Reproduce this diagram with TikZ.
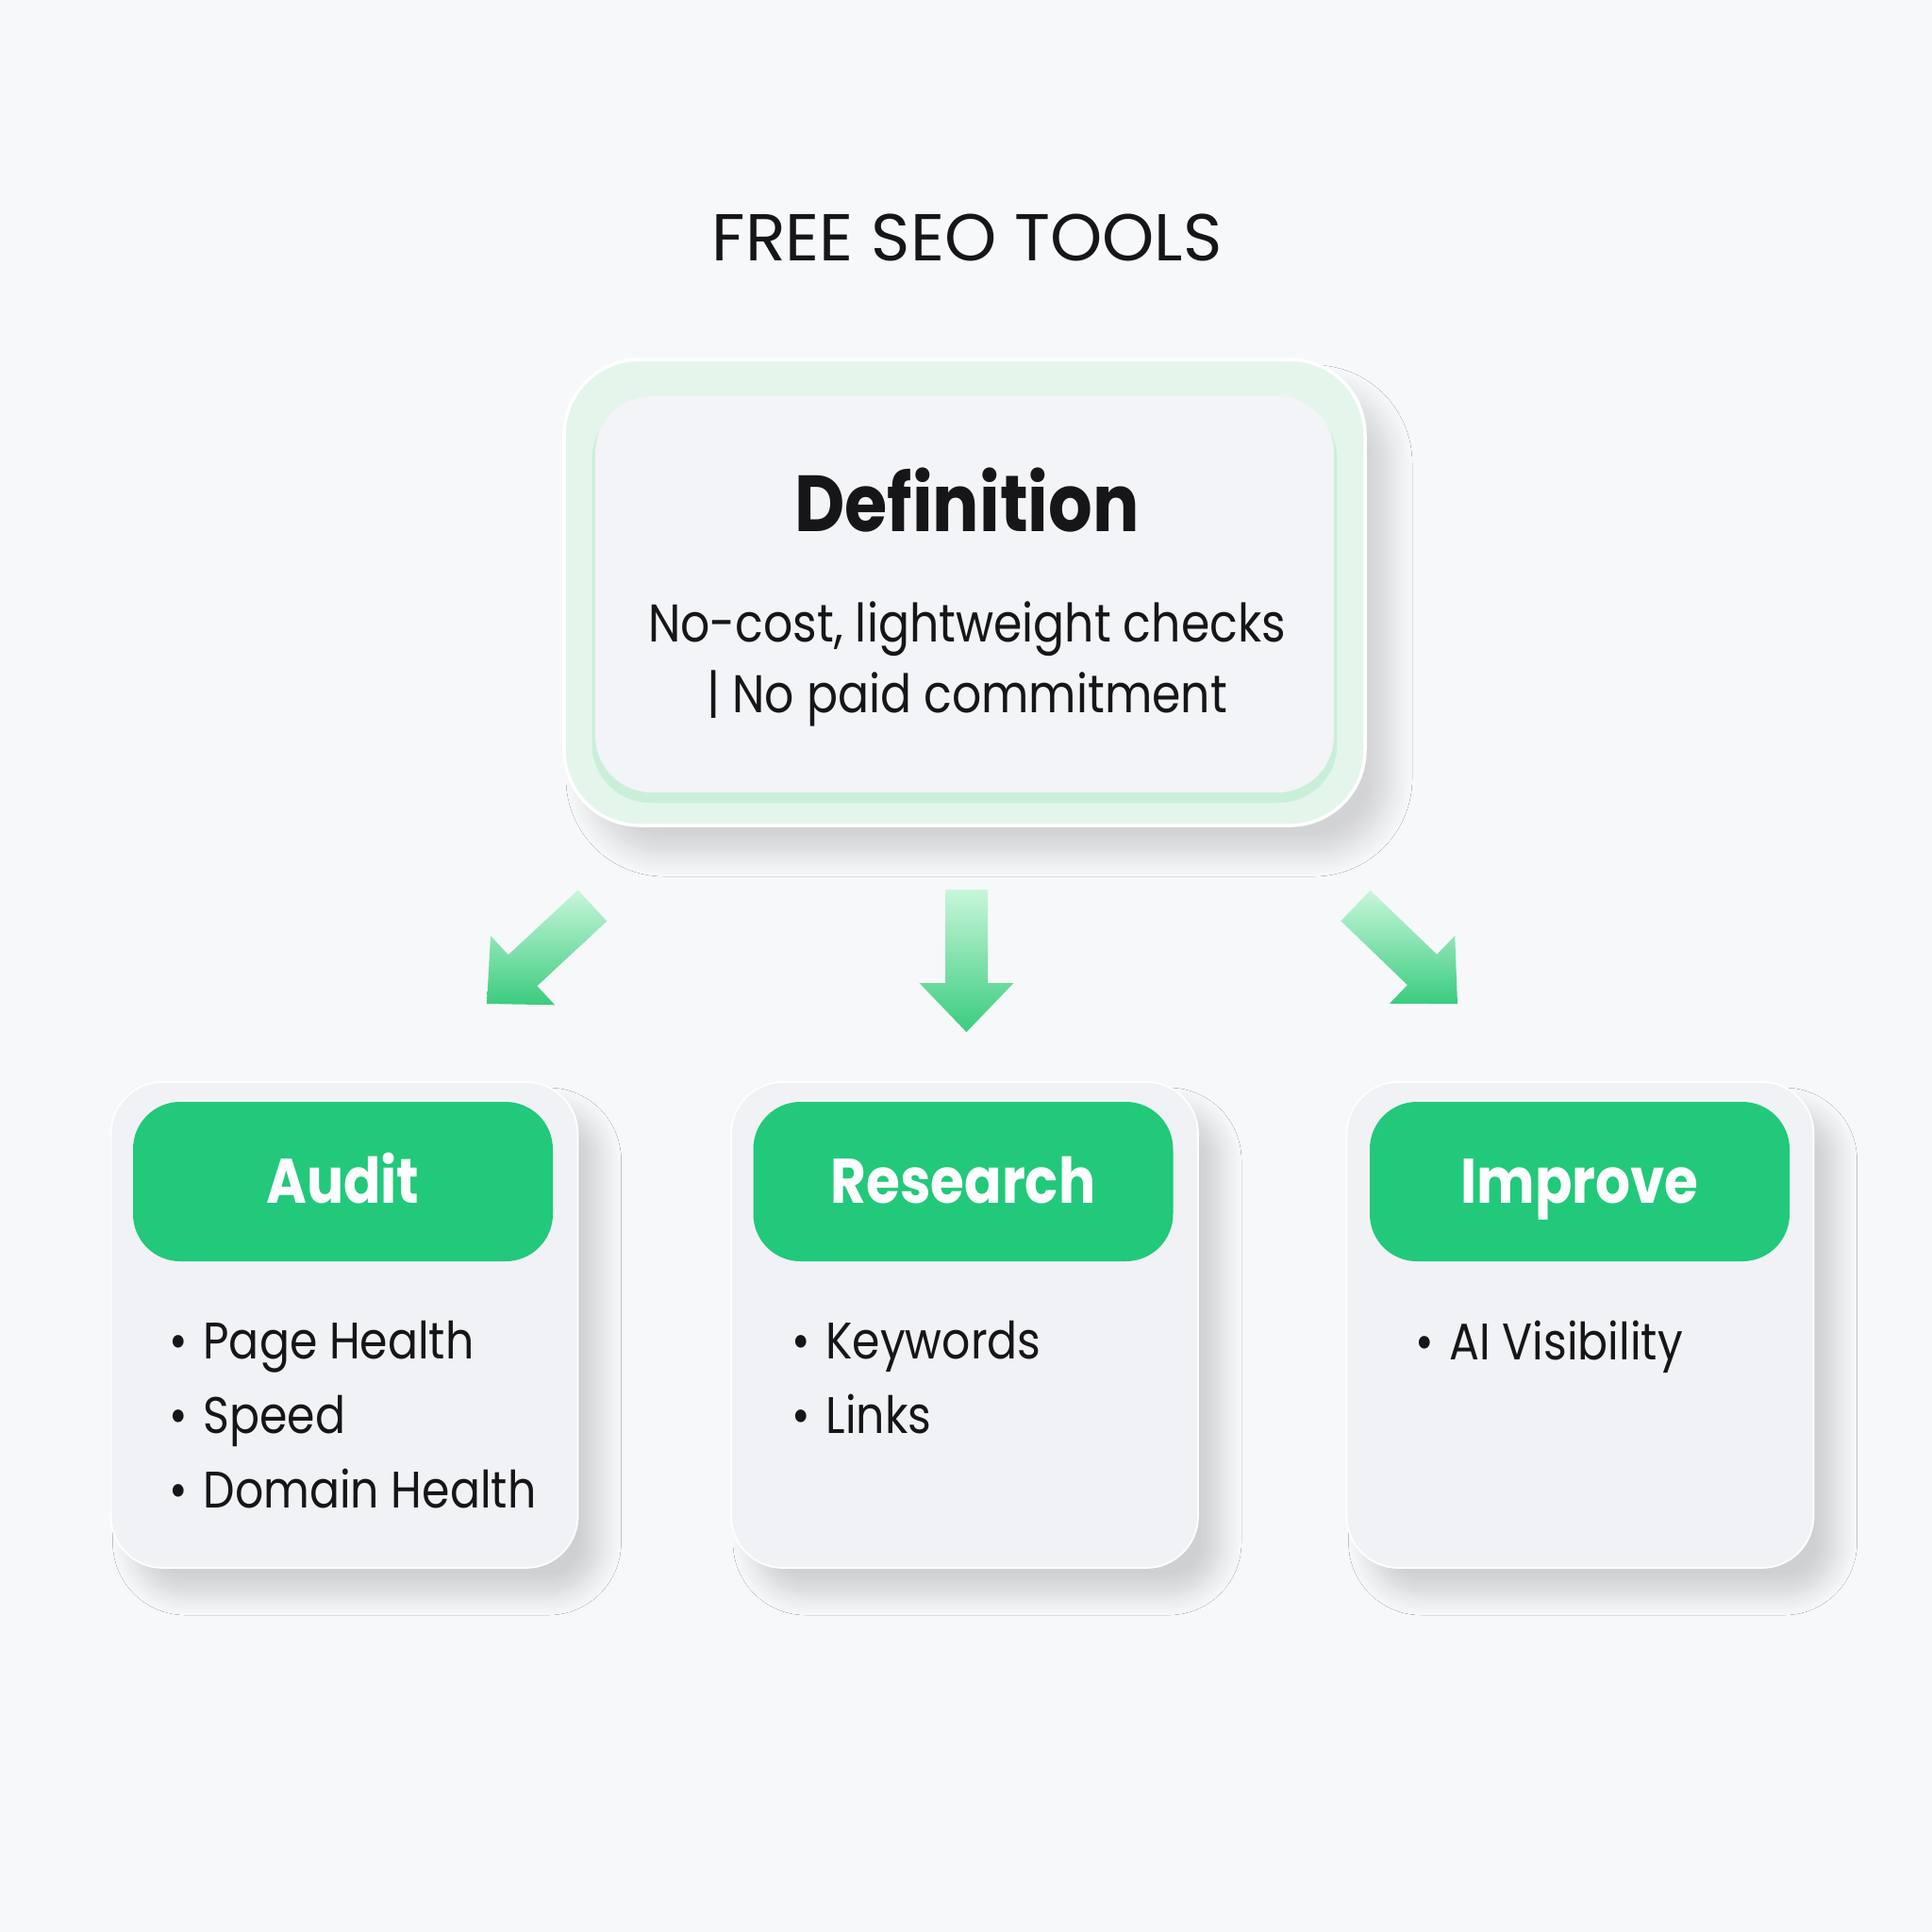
\documentclass[tikz,border=0pt]{standalone}
\usepackage{fontspec}
\setmainfont{Poppins}
\newfontfamily\narrowfont{Poppins}[FakeStretch=0.87]
\usetikzlibrary{calc,positioning,shadows.blur}

\definecolor{bgcol}{RGB}{247,248,250}
\definecolor{cardcol}{RGB}{241,242,245}
\definecolor{defcol}{RGB}{243,244,247}
\definecolor{mintpale}{RGB}{228,246,236}
\definecolor{mintrim}{RGB}{202,239,217}
\definecolor{headgreen}{RGB}{34,201,122}
\definecolor{arrowlight}{RGB}{200,246,218}
\definecolor{arrowdark}{RGB}{58,204,126}
\definecolor{ink}{RGB}{22,22,24}

% fat arrow between two named coordinates: #1 tail, #2 tip, #3 shading angle
\newcommand{\fatarrow}[3]{%
  \coordinate (#1h) at ($(#2)!0.52cm!(#1)$);
  \shade[shading angle=#3, top color=arrowlight, bottom color=arrowdark]
    ($(#1)!0.225cm!90:(#2)$) -- ($(#1h)!0.225cm!90:(#2)$) -- ($(#1h)!0.5cm!90:(#2)$)
    -- (#2) -- ($(#1h)!0.5cm!-90:(#2)$) -- ($(#1h)!0.225cm!-90:(#2)$)
    -- ($(#1)!0.225cm!-90:(#2)$) -- cycle;
}

\begin{document}
\begin{tikzpicture}[
    card/.style={rectangle, rounded corners=0.55cm, fill=cardcol, draw=white, line width=0.5pt,
      minimum width=4.95cm, minimum height=5.15cm,
      blur shadow={shadow xshift=0.24cm, shadow yshift=-0.28cm, shadow blur radius=0.22cm,
        shadow blur steps=12, shadow opacity=16}},
    header/.style={rectangle, rounded corners=0.5cm, fill=headgreen, minimum width=4.45cm, minimum height=1.69cm,
      text=white, text height=13pt, text depth=0pt, font=\narrowfont\bfseries\fontsize{19}{22}\selectfont},
    items/.style={anchor=north west, align=left, inner sep=0pt, text=ink,
      font=\narrowfont\fontsize{15.5}{22.5}\selectfont}
]
\useasboundingbox (0,0) rectangle (20.48,-20.48);
\fill[bgcol] (0,0) rectangle (20.48,-20.48);

% Title
\node[text=ink, font=\fontsize{20}{24}\selectfont] (title) at (10.25,-2.52) {FREE SEO TOOLS};

% Definition box with soft green glow
\node[rectangle, rounded corners=0.8cm, fill=mintpale, draw=white, line width=1pt,
  minimum width=8.49cm, minimum height=4.94cm,
  blur shadow={shadow xshift=0.26cm, shadow yshift=-0.3cm, shadow blur radius=0.24cm,
    shadow blur steps=12, shadow opacity=15}]
  (defglow) at (10.225,-6.28) {};
\node[rectangle, rounded corners=0.62cm, fill=mintrim, minimum width=7.90cm, minimum height=4.26cm]
  (defrim) at (10.225,-6.38) {};
\node[rectangle, rounded corners=0.6cm, fill=defcol, minimum width=7.83cm, minimum height=4.20cm]
  (def) at (10.225,-6.30) {};
\node[text=ink, font=\narrowfont\bfseries\fontsize{24}{28}\selectfont] (deftitle) at (10.25,-5.30) {Definition};
\node[text=ink, align=center, font=\narrowfont\fontsize{16}{21.3}\selectfont] (deftext) at (10.25,-7.04)
  {No-cost, lightweight checks\\| No paid commitment};

% Arrows from the definition down to the cards
\coordinate (lt) at (6.28,-9.60);
\coordinate (lh) at (5.16,-10.64);
\coordinate (mt) at (10.245,-9.43);
\coordinate (mh) at (10.245,-10.94);
\coordinate (rt) at (14.37,-9.60);
\coordinate (rh) at (15.45,-10.64);
\fatarrow{lt}{lh}{-45}
\fatarrow{mt}{mh}{0}
\fatarrow{rt}{rh}{45}

% Cards
\node[card] (audit) at (3.65,-14.045) {};
\node[card] (research) at (10.225,-14.045) {};
\node[card] (improve) at (16.75,-14.045) {};

\node[header] (audithead) at (3.635,-12.525) {Audit};
\node[header] (researchhead) at (10.21,-12.525) {Research};
\node[header] (improvehead) at (16.745,-12.525) {Improve};

\node[items] (audititems) at (1.79,-13.99) {\textbullet\hspace{0.3em}Page Health\\\textbullet\hspace{0.3em}Speed\\\textbullet\hspace{0.3em}Domain Health};
\node[items] (researchitems) at (8.39,-13.99) {\textbullet\hspace{0.3em}Keywords\\\textbullet\hspace{0.3em}Links};
\node[items] (improveitems) at (15.00,-13.99) {\textbullet\hspace{0.3em}AI Visibility};
\end{tikzpicture}
\end{document}
